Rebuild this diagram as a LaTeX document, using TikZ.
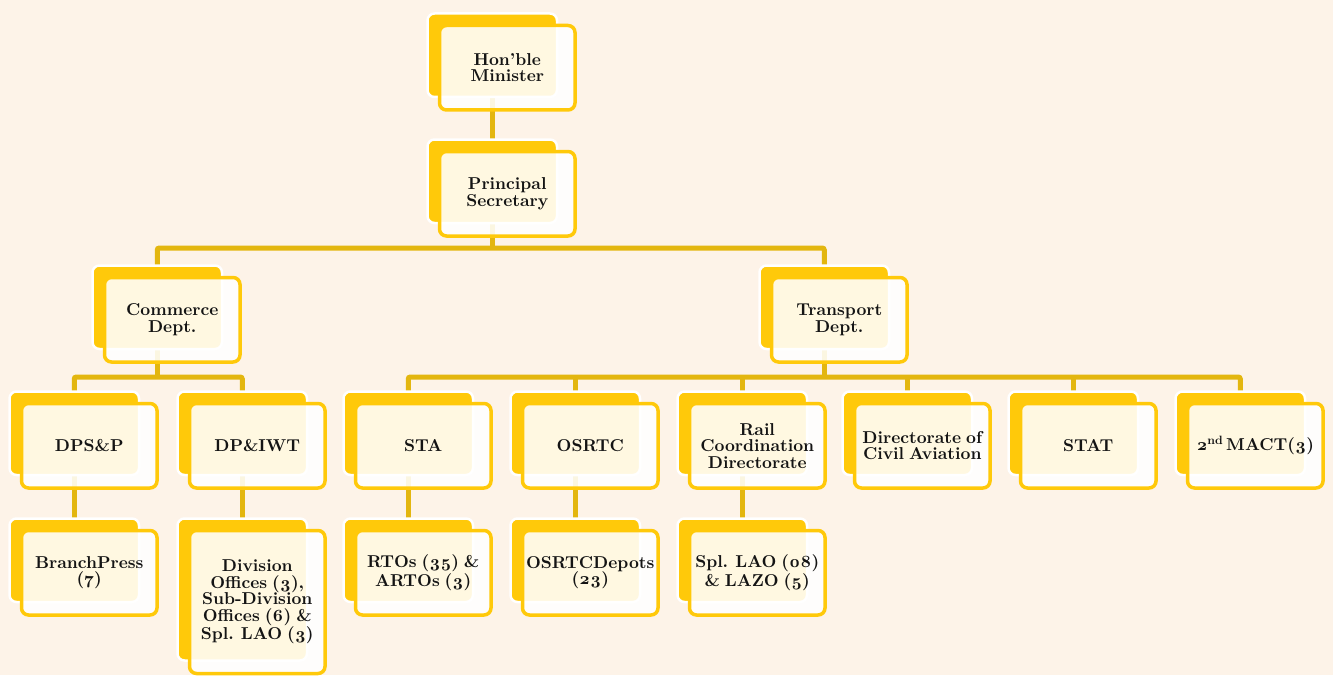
\documentclass[tikz,border=0pt]{standalone}
\usepackage{fontspec}
\newfontfamily\chartfont{lmroman10-bold.otf}[Numbers=OldStyle,WordSpace=0.75]
\definecolor{pagebg}{HTML}{FDF3E8}
\definecolor{boxyellow}{HTML}{FFC90A}
\definecolor{connyellow}{HTML}{E3B60F}
\definecolor{inktext}{HTML}{141414}
\pgfdeclarelayer{bglayer}
\pgfdeclarelayer{connlayer}
\pgfsetlayers{bglayer,connlayer,main}
\tikzset{
  backbox/.style={draw=white, line width=2.5bp, fill=boxyellow, rounded corners=7bp,
    minimum width=129.5bp, anchor=north west, inner sep=0pt},
  frontbox/.style={draw=boxyellow, line width=3.5bp, fill=white, fill opacity=0.88,
    text opacity=1, rounded corners=7bp, minimum width=135.5bp, anchor=north west,
    inner sep=1bp, align=center, text=inktext,
    font=\chartfont\fontsize{17.2bp}{16.5bp}\selectfont},
  conn/.style={draw=connyellow, line width=5bp, rounded corners=2bp}
}
\newcommand\orgbox[5][84.5]{%
  \node[backbox, minimum height={(#1-1)*1bp}] (#2-b) at ({#3+1.25},{#4+1.25}) {};
  \node[frontbox, minimum height={#1*1bp}] (#2) at ({#3+12.75},{#4+12.75}) {#5};
}
\begin{document}
\begin{tikzpicture}[x=1bp,y=-1bp]
\useasboundingbox (0,0) rectangle (1333,675);
\begin{pgfonlayer}{bglayer}
  \fill[pagebg] (0,0) rectangle (1333,675);
\end{pgfonlayer}
% level 1-2
\orgbox{hon}{425}{11}{Hon’ble\\Minister}
\orgbox{ps}{425}{137}{Principal\\Secretary}
\orgbox{com}{90}{263}{Commerce\\Dept.}
\orgbox{tra}{757}{263}{Transport\\Dept.}
% level 3
\orgbox{dpsp}{7}{389}{DPS\&P}
\orgbox{dpiwt}{175}{389}{DP\&IWT}
\orgbox{sta}{341}{389}{STA}
\orgbox{osrtc}{508}{389}{OSRTC}
\orgbox{rail}{675}{389}{Rail\\Coordination\\Directorate}
\orgbox{dca}{840}{389}{Directorate of\\Civil Aviation}
\orgbox{stat}{1006}{389}{STAT}
\orgbox{mact}{1173}{389}{2\textsuperscript{nd}\,MACT(3)}
% level 4
\orgbox{bp}{7}{516}{BranchPress\\(7)}
\orgbox[143]{divo}{175}{516}{Division\\Offices (3),\\Sub-Division\\Offices (6) \&\\Spl. LAO (3)}
\orgbox{rto}{341}{516}{RTOs (35) \&\\ARTOs (3)}
\orgbox{depot}{508}{516}{OSRTCDepots\\(23)}
\orgbox{lao}{675}{516}{Spl. LAO (08)\\\& LAZO (5)}
% bar coordinates
\coordinate (barA) at (0,248);
\coordinate (barB) at (0,377);
\begin{pgfonlayer}{connlayer}
  \draw[conn] (hon-b.center) -- (ps-b.center);
  \draw[conn] (ps-b.center) -- (ps-b.center |- barA);
  \draw[conn] (com-b.center) |- (tra-b.center |- barA) -- (tra-b.center);
  \draw[conn] (com-b.center) -- (com-b.center |- barB);
  \draw[conn] (dpsp-b.center) |- (dpiwt-b.center |- barB) -- (dpiwt-b.center);
  \draw[conn] (tra-b.center) -- (tra-b.center |- barB);
  \draw[conn] (sta-b.center) |- (mact-b.center |- barB) -- (mact-b.center);
  \draw[conn] (osrtc-b.center) -- (osrtc-b.center |- barB);
  \draw[conn] (rail-b.center) -- (rail-b.center |- barB);
  \draw[conn] (dca-b.center) -- (dca-b.center |- barB);
  \draw[conn] (stat-b.center) -- (stat-b.center |- barB);
  \draw[conn] (dpsp-b.center) -- (bp-b.center);
  \draw[conn] (dpiwt-b.center) -- (divo-b.center);
  \draw[conn] (sta-b.center) -- (rto-b.center);
  \draw[conn] (osrtc-b.center) -- (depot-b.center);
  \draw[conn] (rail-b.center) -- (lao-b.center);
\end{pgfonlayer}
\end{tikzpicture}
\end{document}
